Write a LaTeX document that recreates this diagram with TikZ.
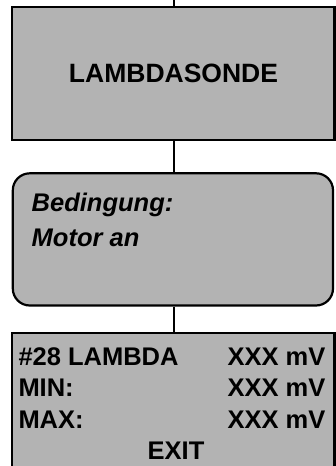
\documentclass[tikz,border=0pt]{standalone}
\usepackage{fontspec}
\setmainfont{Liberation Sans}
\definecolor{boxgray}{RGB}{179,179,179}
\tikzset{
  panel/.style={draw=black, line width=2.2pt, fill=boxgray, inner sep=0pt},
  link/.style={draw=black, line width=2.2pt},
  bigtxt/.style={font=\fontsize{26.5pt}{30pt}\selectfont\bfseries, inner sep=0pt},
  condtxt/.style={font=\fontsize{25.5pt}{30pt}\selectfont\bfseries\itshape, inner sep=0pt},
  rowtxt/.style={font=\fontsize{25.5pt}{30pt}\selectfont\bfseries, inner sep=0pt}
}
\begin{document}
\begin{tikzpicture}[x=1pt,y=-1pt]
\useasboundingbox (0,0) rectangle (336,466);
\clip (0,0) rectangle (336,466);
% boxes
\node[panel, minimum width=322.5pt, minimum height=133pt] (title) at (173.25,73.5) {};
\node[bigtxt] (titletxt) at (173.5,73.5) {LAMBDASONDE};
\node[panel, rounded corners=17pt, minimum width=320.2pt, minimum height=132.2pt] (cond) at (172.9,239.4) {};
\node[condtxt, anchor=base west] (cond1) at (31.5,211.7) {Bedingung:};
\node[condtxt, anchor=base west] (cond2) at (31.5,246) {Motor an};
\node[panel, minimum width=322.5pt, minimum height=146.7pt] (disp) at (173.25,406.65) {};
\node[rowtxt, anchor=base west] (r1l) at (18.3,365) {\#28 LAMBDA};
\node[rowtxt, anchor=base east] (r1r) at (325.5,365) {XXX mV};
\node[rowtxt, anchor=base west] (r2l) at (18.3,396) {MIN:};
\node[rowtxt, anchor=base east] (r2r) at (325.5,396) {XXX mV};
\node[rowtxt, anchor=base west] (r3l) at (18.3,428.3) {MAX:};
\node[rowtxt, anchor=base east] (r3r) at (325.5,428.3) {XXX mV};
\node[rowtxt, anchor=base] (exit) at (176,459.3) {EXIT};
% connectors
\coordinate (entry) at (174,-2);
\draw[link] (entry) -- (entry |- title.north);
\draw[link] (title.south -| entry) -- (cond.north -| entry);
\draw[link] (cond.south -| entry) -- (disp.north -| entry);
\end{tikzpicture}
\end{document}
